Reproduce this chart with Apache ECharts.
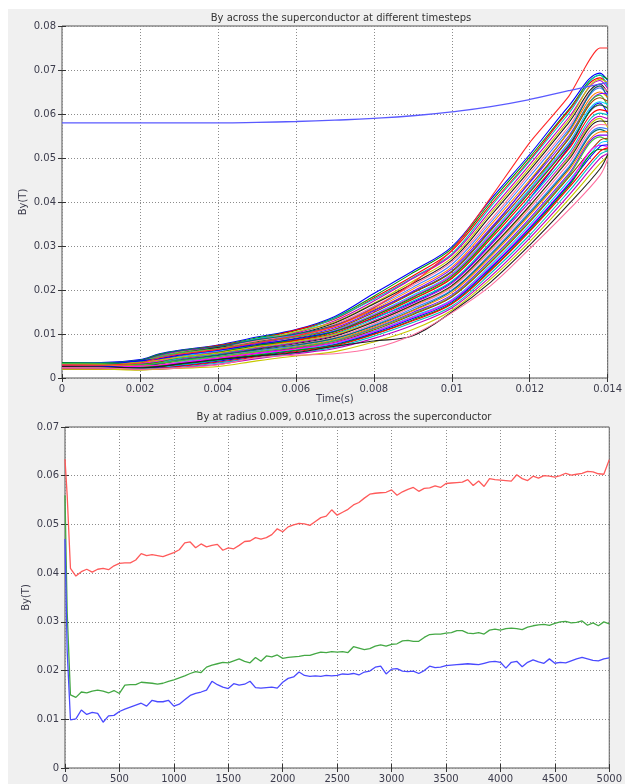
<!DOCTYPE html>
<html>
<head>
<meta charset="utf-8">
<script src="https://cdn.jsdelivr.net/npm/echarts@6/dist/echarts.min.js"></script>
<style>
  html, body { margin: 0; padding: 0; background: #ffffff; }
  #chart { width: 625px; height: 784px; }
</style>
</head>
<body>
<div id="chart"></div>
<script>
// ---- Upper panel: By profiles across the superconductor (values in mT) ----
const timeS = [0, 0.001, 0.002, 0.0025, 0.003, 0.004, 0.005, 0.006, 0.007, 0.008, 0.009, 0.010, 0.011, 0.012, 0.013, 0.0138, 0.014];

const profileMilliT = [
  [3.4,3.5,4.2,5.5,6.3,7.5,9.3,11.0,14.0,19.2,24.3,29.8,40.6,50.8,61.8,69.3,67.6],
  [3.2,3.3,4.0,5.4,6.2,7.3,9.1,10.8,13.7,18.6,23.9,29.4,40.0,50.2,61.0,68.8,67.9],
  [2.9,3.0,3.9,5.2,6.0,7.4,8.8,10.9,13.4,18.2,23.2,28.9,39.4,49.6,60.7,68.2,66.9],
  [3.5,3.4,3.8,5.0,5.9,7.0,8.9,10.4,13.6,17.9,22.8,28.2,38.9,49.3,60.1,68.9,66.1],
  [2.6,2.7,3.6,5.1,6.1,7.1,8.6,10.2,13.0,17.5,22.6,27.9,38.1,48.5,59.2,67.6,65.8],
  [3.0,3.1,3.7,4.8,5.8,6.8,8.4,10.5,12.7,17.0,22.0,27.3,37.5,47.8,58.6,67.9,67.1],
  [2.4,2.5,3.5,4.6,5.6,6.9,8.2,9.9,12.5,16.8,21.5,26.8,36.9,47.2,58.0,66.8,64.9],
  [3.3,3.2,3.4,4.5,5.5,6.6,8.5,9.7,12.2,16.3,21.1,26.4,36.0,46.5,57.1,66.2,65.3],
  [2.8,2.8,3.3,4.7,5.4,6.4,8.0,9.8,11.9,16.0,20.6,25.8,35.4,45.8,56.5,65.9,64.2],
  [3.5,3.4,4.0,5.3,6.2,7.2,8.7,10.0,12.0,15.4,19.5,24.3,33.8,44.6,56.0,66.4,63.5],
  [2.2,2.3,3.1,4.3,5.3,6.5,7.8,9.5,11.7,15.6,20.2,25.2,34.8,45.0,55.8,65.0,63.8],
  [3.1,3.0,3.2,4.2,5.0,6.2,7.9,9.3,11.4,15.2,19.7,24.8,34.1,44.4,55.0,64.6,64.7],
  [2.4,2.5,3.6,4.9,5.7,6.7,8.1,9.4,11.0,14.2,18.0,22.8,32.0,42.8,54.6,64.3,61.8],
  [2.5,2.6,3.0,4.0,4.9,6.0,7.5,9.0,11.1,14.9,19.3,24.1,33.5,43.6,54.3,63.7,62.9],
  [2.0,2.1,2.8,3.8,4.8,6.1,7.3,8.8,10.8,14.5,18.8,23.6,32.9,43.0,53.5,62.8,62.2],
  [2.9,3.0,3.3,3.9,4.6,5.9,7.3,8.7,10.7,14.3,18.5,23.4,32.6,42.5,53.1,62.0,61.5],
  [3.0,3.1,3.9,4.4,5.2,6.3,7.6,8.9,10.6,13.6,17.2,21.8,30.5,40.8,52.4,62.5,60.0],
  [3.4,3.3,3.1,3.6,4.5,5.8,7.4,8.6,10.5,14.1,18.3,23.1,32.2,42.2,52.8,62.1,61.3],
  [2.7,2.6,2.9,3.5,4.3,5.6,7.0,8.5,10.2,13.8,17.9,22.6,31.6,41.5,52.0,61.0,60.6],
  [2.1,2.2,2.6,3.4,4.4,5.5,6.8,8.2,10.0,13.4,17.5,22.0,30.9,40.7,51.1,60.2,59.8],
  [3.0,2.9,2.7,3.2,4.1,5.3,6.7,8.0,9.7,13.0,17.0,21.5,30.2,40.0,50.4,59.5,58.9],
  [2.7,2.8,3.5,4.1,4.7,5.7,7.1,8.3,9.9,12.8,16.4,20.8,29.3,39.0,50.0,59.0,57.0],
  [2.3,2.4,2.5,3.1,3.9,5.1,6.5,7.8,9.5,12.7,16.6,21.0,29.6,39.2,49.6,58.4,58.3],
  [2.9,2.8,2.6,3.0,3.7,4.9,6.3,7.6,9.2,12.3,16.2,20.5,28.9,38.5,48.8,57.6,57.5],
  [2.4,2.3,2.3,2.8,3.5,4.8,6.1,7.3,8.9,12.0,15.8,20.0,28.3,37.8,48.0,56.9,56.6],
  [2.2,2.3,2.9,3.3,4.0,5.2,6.4,7.5,9.0,11.8,15.4,19.8,28.0,37.4,47.6,56.5,55.8],
  [3.2,3.1,2.8,2.9,3.3,4.6,5.9,7.1,8.7,11.6,15.3,19.4,27.6,37.0,47.2,55.9,56.0],
  [2.0,2.1,2.2,2.6,3.2,4.4,5.7,6.9,8.4,11.3,14.9,18.9,27.0,36.3,46.4,55.2,55.2],
  [3.3,3.2,3.0,3.4,3.9,4.9,6.0,7.0,8.5,11.2,14.6,18.6,26.6,35.8,46.0,54.8,54.0],
  [2.6,2.5,2.4,2.5,3.0,4.2,5.5,6.7,8.1,10.9,14.4,18.4,26.3,35.5,45.6,54.0,54.5],
  [2.2,2.2,2.1,2.4,2.9,4.0,5.3,6.4,7.9,10.6,14.0,17.8,25.7,34.8,44.8,53.3,53.8],
  [2.5,2.4,2.7,2.9,3.4,4.5,5.6,6.6,8.0,10.5,13.8,17.6,25.3,34.3,44.2,52.9,52.6],
  [2.8,2.7,2.3,2.3,2.7,3.8,5.0,6.2,7.6,10.2,13.5,17.3,25.0,34.0,44.0,52.6,53.0],
  [2.1,2.1,2.4,2.7,3.1,4.1,5.2,6.3,7.5,10.0,13.2,17.0,24.6,33.6,43.6,52.0,51.8],
  [2.1,2.0,2.0,2.2,2.6,3.6,4.8,6.0,7.3,9.9,13.0,16.8,24.4,33.3,43.2,51.5,52.3],
  [2.5,2.4,2.2,2.1,2.4,3.4,4.6,5.7,7.0,9.5,12.6,16.3,23.8,32.5,42.4,50.8,51.6],
  [2.3,2.2,1.9,2.0,2.3,3.1,4.4,5.5,6.7,9.0,12.0,15.9,23.1,31.8,41.5,49.9,51.0],
  [2.0,2.0,1.8,2.0,2.2,2.6,3.9,5.0,6.0,8.2,11.0,15.4,22.5,31.0,40.6,48.7,50.4],
  [2.6,2.5,2.3,2.6,3.2,4.2,5.0,5.8,7.2,8.4,9.6,15.0,21.8,30.2,39.5,47.5,50.8],
  [2.3,2.3,2.0,2.1,2.3,3.0,4.6,5.2,5.5,6.8,9.8,14.8,21.0,29.4,38.2,46.0,49.8]
];

// profile that overshoots at the end of the ramp
const peakProfileMilliT = [2.9,2.9,3.4,4.6,5.4,6.5,8.0,9.6,11.8,15.9,21.6,29.0,41.0,53.5,64.0,75.0,75.0];
// applied field
const appliedMilliT = [58.0,58.0,58.0,58.0,58.0,58.0,58.1,58.3,58.6,59.0,59.6,60.5,61.7,63.3,65.3,66.8,67.1];

const profileColors = ['#0000ff','#009900','#ff0000','#00c0c0','#c000c0','#c8c800','#202020','#ff70a0',
                       '#4080ff','#007070','#ff8000','#8000ff','#40c040','#a04000','#00d0ff','#ff00ff'];

// ---- Lower panel: By at three radii versus time step (values in mT) ----
const stepTime = [0, 20, 50,
  100, 150, 200, 250, 300, 350, 400, 450, 500, 550,
  600, 650, 700, 750, 800, 850, 900, 950, 1000, 1050,
  1100, 1150, 1200, 1250, 1300, 1350, 1400, 1450, 1500, 1550,
  1600, 1650, 1700, 1750, 1800, 1850, 1900, 1950, 2000, 2050,
  2100, 2150, 2200, 2250, 2300, 2350, 2400, 2450, 2500, 2550,
  2600, 2650, 2700, 2750, 2800, 2850, 2900, 2950, 3000, 3050,
  3100, 3150, 3200, 3250, 3300, 3350, 3400, 3450, 3500, 3550,
  3600, 3650, 3700, 3750, 3800, 3850, 3900, 3950, 4000, 4050,
  4100, 4150, 4200, 4250, 4300, 4350, 4400, 4450, 4500, 4550,
  4600, 4650, 4700, 4750, 4800, 4850, 4900, 4950, 5000];

const byR013 = [63.4, 56.0, 41.0,
  39.4, 40.3, 40.8, 40.2, 40.8, 41.0, 40.7, 41.5, 42.0, 42.1,
  42.1, 42.7, 44.0, 43.6, 43.8, 43.6, 43.4, 43.8, 44.2, 44.8,
  46.2, 46.4, 45.2, 46.0, 45.4, 45.7, 45.9, 44.7, 45.2, 45.0,
  45.7, 46.5, 46.6, 47.3, 47.0, 47.3, 47.9, 49.1, 48.5, 49.5,
  49.9, 50.2, 50.1, 49.8, 50.6, 51.4, 51.7, 53.0, 51.9, 52.5,
  53.1, 54.0, 54.5, 55.4, 56.2, 56.4, 56.5, 56.6, 57.1, 56.0,
  56.7, 57.2, 57.6, 56.8, 57.4, 57.5, 57.9, 57.6, 58.4, 58.5,
  58.6, 58.7, 59.2, 58.0, 58.9, 57.8, 59.4, 59.2, 59.1, 59.0,
  58.9, 60.2, 59.4, 59.0, 59.9, 59.5, 60.0, 59.9, 59.7, 60.0,
  60.5, 60.1, 60.3, 60.5, 60.9, 60.8, 60.4, 60.3, 63.3];

const byR010 = [56.0, 32.0, 15.0,
  14.5, 15.6, 15.4, 15.8, 16.0, 15.8, 15.4, 15.9, 15.3, 17.0,
  17.1, 17.1, 17.6, 17.5, 17.4, 17.2, 17.4, 17.8, 18.1, 18.5,
  18.9, 19.4, 19.8, 19.6, 20.7, 21.1, 21.4, 21.7, 21.6, 22.0,
  22.4, 21.9, 21.6, 22.7, 21.9, 23.0, 22.8, 23.2, 22.5, 22.7,
  22.8, 22.9, 23.1, 23.1, 23.5, 23.8, 23.7, 23.9, 23.8, 23.9,
  23.7, 24.9, 24.6, 24.3, 24.5, 25.0, 25.3, 25.0, 25.4, 25.5,
  26.1, 26.2, 26.0, 26.0, 26.8, 27.4, 27.5, 27.5, 27.7, 27.8,
  28.2, 28.2, 27.7, 27.6, 27.8, 27.5, 28.3, 28.5, 28.3, 28.6,
  28.7, 28.6, 28.4, 28.9, 29.2, 29.4, 29.5, 29.3, 29.7, 30.0,
  30.1, 29.8, 29.9, 30.2, 29.3, 29.8, 29.2, 30.0, 29.6];

const byR009 = [47.0, 24.0, 9.9,
  10.1, 11.9, 11.0, 11.4, 11.2, 9.4, 10.7, 10.8, 11.6, 12.1,
  12.5, 12.9, 13.3, 12.7, 13.9, 13.6, 13.6, 13.9, 12.7, 13.1,
  14.0, 14.9, 15.3, 15.6, 16.0, 17.8, 17.1, 16.6, 16.3, 17.3,
  17.0, 17.2, 17.8, 16.5, 16.4, 16.5, 16.6, 16.4, 17.6, 18.4,
  18.7, 19.7, 19.0, 18.8, 18.9, 18.8, 19.0, 18.9, 19.0, 19.3,
  19.2, 19.4, 19.1, 19.7, 19.9, 20.7, 20.9, 19.3, 20.3, 20.4,
  19.9, 19.8, 19.9, 19.4, 20.0, 20.9, 20.6, 20.7, 21.0, 21.1,
  21.2, 21.3, 21.4, 21.3, 21.2, 21.5, 21.8, 21.9, 21.7, 20.5,
  21.7, 21.9, 20.8, 21.7, 22.2, 21.8, 21.5, 22.4, 21.5, 21.7,
  21.6, 22.0, 22.4, 22.7, 22.4, 22.1, 22.0, 22.4, 22.6];

// ---- styling ----
const FONT = 'DejaVu Sans';
const LABEL_COLOR = '#3c3c4c';

const toTesla = (xs, ys) => xs.map((x, i) => [x, ys[i] / 1000]);
const yFmt = v => (v === 0 ? '0' : v.toFixed(2));
const plainFmt = v => String(v);

function axisPair(gridIndex, type, min, max, interval, opts) {
  const base = {
    gridIndex, type: 'value', min, max, interval,
    axisLine: { show: false },
    axisTick: { show: true, inside: true, length: 4, lineStyle: { color: '#333', width: 1 } },
    splitLine: { show: false }
  };
  const main = Object.assign({}, base, {
    position: type === 'x' ? 'bottom' : 'left',
    axisLabel: Object.assign({ color: LABEL_COLOR, fontFamily: FONT, fontSize: 10, margin: 6, formatter: plainFmt }, opts.label || {}),
    splitLine: { show: true, lineStyle: { color: '#8c8c8c', type: [1, 2], width: 1 } },
    name: opts.name || '',
    nameLocation: 'middle',
    nameGap: opts.nameGap || 20,
    nameMoveOverlap: false,
    nameTextStyle: { color: LABEL_COLOR, fontFamily: FONT, fontSize: 10 }
  });
  const mirror = Object.assign({}, base, {
    position: type === 'x' ? 'top' : 'right',
    axisLabel: { show: false }
  });
  return [main, mirror];
}

const chart = echarts.init(document.getElementById('chart'), null, { renderer: 'canvas' });

const topX = axisPair(0, 'x', 0, 0.014, 0.002, { name: 'Time(s)', nameGap: 16 });
const topY = axisPair(0, 'y', 0, 0.08, 0.01, { name: 'By(T)', nameGap: 34, label: { formatter: yFmt } });
const botX = axisPair(1, 'x', 0, 5000, 500, {});
const botY = axisPair(1, 'y', 0, 0.07, 0.01, { name: 'By(T)', nameGap: 34, label: { formatter: yFmt } });

const series = [];
profileMilliT.forEach((p, k) => {
  series.push({
    type: 'line', xAxisIndex: 0, yAxisIndex: 0, name: 'profile ' + (k + 1),
    data: toTesla(timeS, p), symbol: 'none', silent: true, smooth: 0.35,
    lineStyle: { color: profileColors[k % profileColors.length], width: 1.1 }
  });
});
series.push({
  type: 'line', xAxisIndex: 0, yAxisIndex: 0, name: 'peak profile',
  data: toTesla(timeS, peakProfileMilliT), symbol: 'none', silent: true, smooth: 0.2,
  lineStyle: { color: '#ff2a2a', width: 1.1 }
});
series.push({
  type: 'line', xAxisIndex: 0, yAxisIndex: 0, name: 'applied',
  data: toTesla(timeS, appliedMilliT), symbol: 'none', silent: true, smooth: true,
  lineStyle: { color: '#5a5aff', width: 1.3 }
});
[[byR013, '#ff5a5a', 'r = 0.013'], [byR010, '#44a844', 'r = 0.010'], [byR009, '#4a4aff', 'r = 0.009']]
  .forEach(([vals, color, name]) => {
    series.push({
      type: 'line', xAxisIndex: 2, yAxisIndex: 2, name,
      data: toTesla(stepTime, vals), symbol: 'none', silent: true,
      lineStyle: { color, width: 1.3 }
    });
  });

chart.setOption({
  animation: false,
  backgroundColor: '#f0f0f0',
  title: [
    { text: 'By across the superconductor at different timesteps', left: 336, top: 8, textAlign: 'center',
      textStyle: { fontFamily: FONT, fontSize: 10, fontWeight: 'normal', color: '#333' } },
    { text: 'By at radius 0.009, 0.010,0.013 across the superconductor', left: 339, top: 407, textAlign: 'center',
      textStyle: { fontFamily: FONT, fontSize: 10, fontWeight: 'normal', color: '#333' } }
  ],
  graphic: [
    { type: 'rect', shape: { x: 0, y: 0, width: 625, height: 9 }, style: { fill: '#ffffff' }, silent: true },
    { type: 'rect', shape: { x: 0, y: 0, width: 8, height: 784 }, style: { fill: '#ffffff' }, silent: true }
  ],
  grid: [
    { left: 62, top: 26, width: 549, height: 352, show: true, backgroundColor: '#ffffff', borderColor: '#555', borderWidth: 1 },
    { left: 65, top: 427, width: 548, height: 346, show: true, backgroundColor: '#ffffff', borderColor: '#555', borderWidth: 1 }
  ],
  xAxis: [topX[0], topX[1], botX[0], botX[1]],
  yAxis: [topY[0], topY[1], botY[0], botY[1]],
  series
});
</script>
</body>
</html>
